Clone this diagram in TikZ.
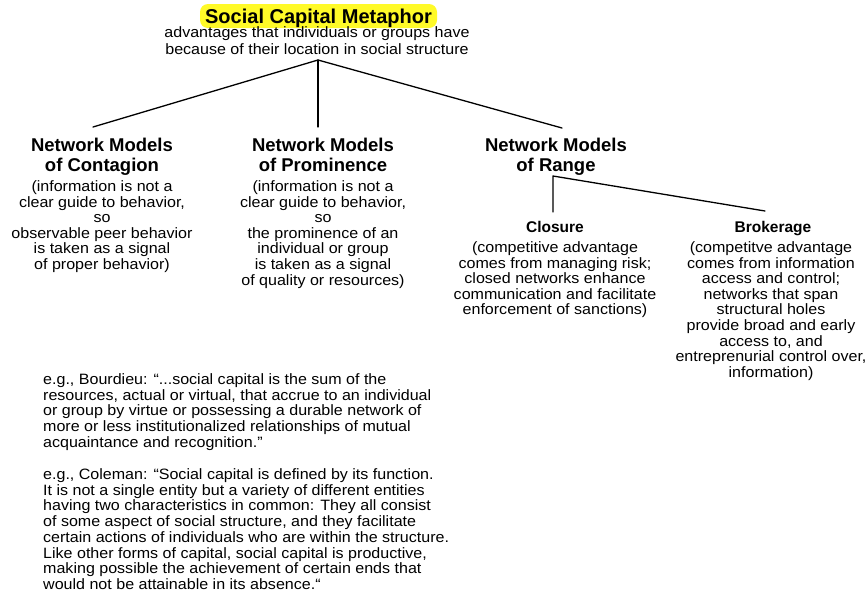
\documentclass[tikz,border=0pt]{standalone}
\usepackage{fontspec}
\setmainfont{Liberation Sans}
\newfontfamily\bodyfont{Liberation Sans}[FakeStretch=1.07]
\definecolor{hl}{RGB}{255,250,40}
\tikzset{
  body/.style={font=\bodyfont\fontsize{15}{15.6}\selectfont, align=center, inner sep=0pt, anchor=north},
  para/.style={font=\bodyfont\fontsize{15}{15.7}\selectfont, align=left, inner sep=0pt, anchor=north west},
  head/.style={font=\bfseries\fontsize{18.5}{20}\selectfont, align=center, inner sep=0pt, anchor=north},
  subhead/.style={font=\bfseries\fontsize{15.5}{17}\selectfont, inner sep=0pt, anchor=north},
  link/.style={line width=1.3pt, line cap=round, line join=round}
}
\begin{document}
\begin{tikzpicture}[x={(1pt,0)}, y={(0,-1pt)}]
\fill[white] (0,0) rectangle (868,595);
\useasboundingbox (0,0) rectangle (868,595);

% title
\node[fill=hl, rounded corners=8pt, minimum width=237pt, minimum height=24pt,
      text height=15pt, text depth=1pt, inner sep=0pt,
      font=\bfseries\fontsize{20}{22}\selectfont] (title) at (318.5,16) {Social Capital Metaphor};
\node[body, font=\bodyfont\fontsize{15}{17}\selectfont] (sub) at (317,26.5)
  {advantages that individuals or groups have\\because of their location in social structure};

% connectors coordinates
\coordinate (apex) at (318,60);
\coordinate (eL) at (93,127);
\coordinate (eM) at (318,127);
\coordinate (eR) at (562,128);
\coordinate (rc) at (553,176);
\coordinate (eC) at (553,212);
\coordinate (eB) at (765,211);

\draw[link] (eL) -- (apex) -- (eR);
\draw[link] (apex) -- (eM);
\draw[link] (eC) -- (rc) -- (eB);

% contagion
\node[head] (conth) at (102,138.3) {Network Models\\of Contagion};
\node[body] (contd) at (102,180.5) {(information is not a\\clear guide to behavior,\\so\\observable peer behavior\\is taken as a signal\\of proper behavior)};

% prominence
\node[head] (promh) at (323,138.3) {Network Models\\of Prominence};
\node[body] (promd) at (323,180.5) {(information is not a\\clear guide to behavior,\\so\\the prominence of an\\individual or group\\is taken as a signal\\of quality or resources)};

% range
\node[head] (rangeh) at (556,138.3) {Network Models\\of Range};

% closure
\node[subhead] (closh) at (555,221) {Closure};
\node[body] (closd) at (555,241.5) {(competitive advantage\\comes from managing risk;\\closed networks enhance\\communication and facilitate\\enforcement of sanctions)};

% brokerage
\node[subhead] (brokh) at (773,221) {Brokerage};
\node[body] (brokd) at (771,241.5) {(competitve advantage\\comes from information\\access and control;\\networks that span\\structural holes\\provide broad and early\\access to, and\\entreprenurial control over,\\information)};

% quotes
\node[para] (bour) at (43,373.5) {e.g., Bourdieu: “...social capital is the sum of the\\resources, actual or virtual, that accrue to an individual\\or group by virtue or possessing a durable network of\\more or less institutionalized relationships of mutual\\acquaintance and recognition.”};
\node[para] (cole) at (43,468.5) {e.g., Coleman: “Social capital is defined by its function.\\It is not a single entity but a variety of different entities\\having two characteristics in common: They all consist\\of some aspect of social structure, and they facilitate\\certain actions of individuals who are within the structure.\\Like other forms of capital, social capital is productive,\\making possible the achievement of certain ends that\\would not be attainable in its absence.“};
\end{tikzpicture}
\end{document}
